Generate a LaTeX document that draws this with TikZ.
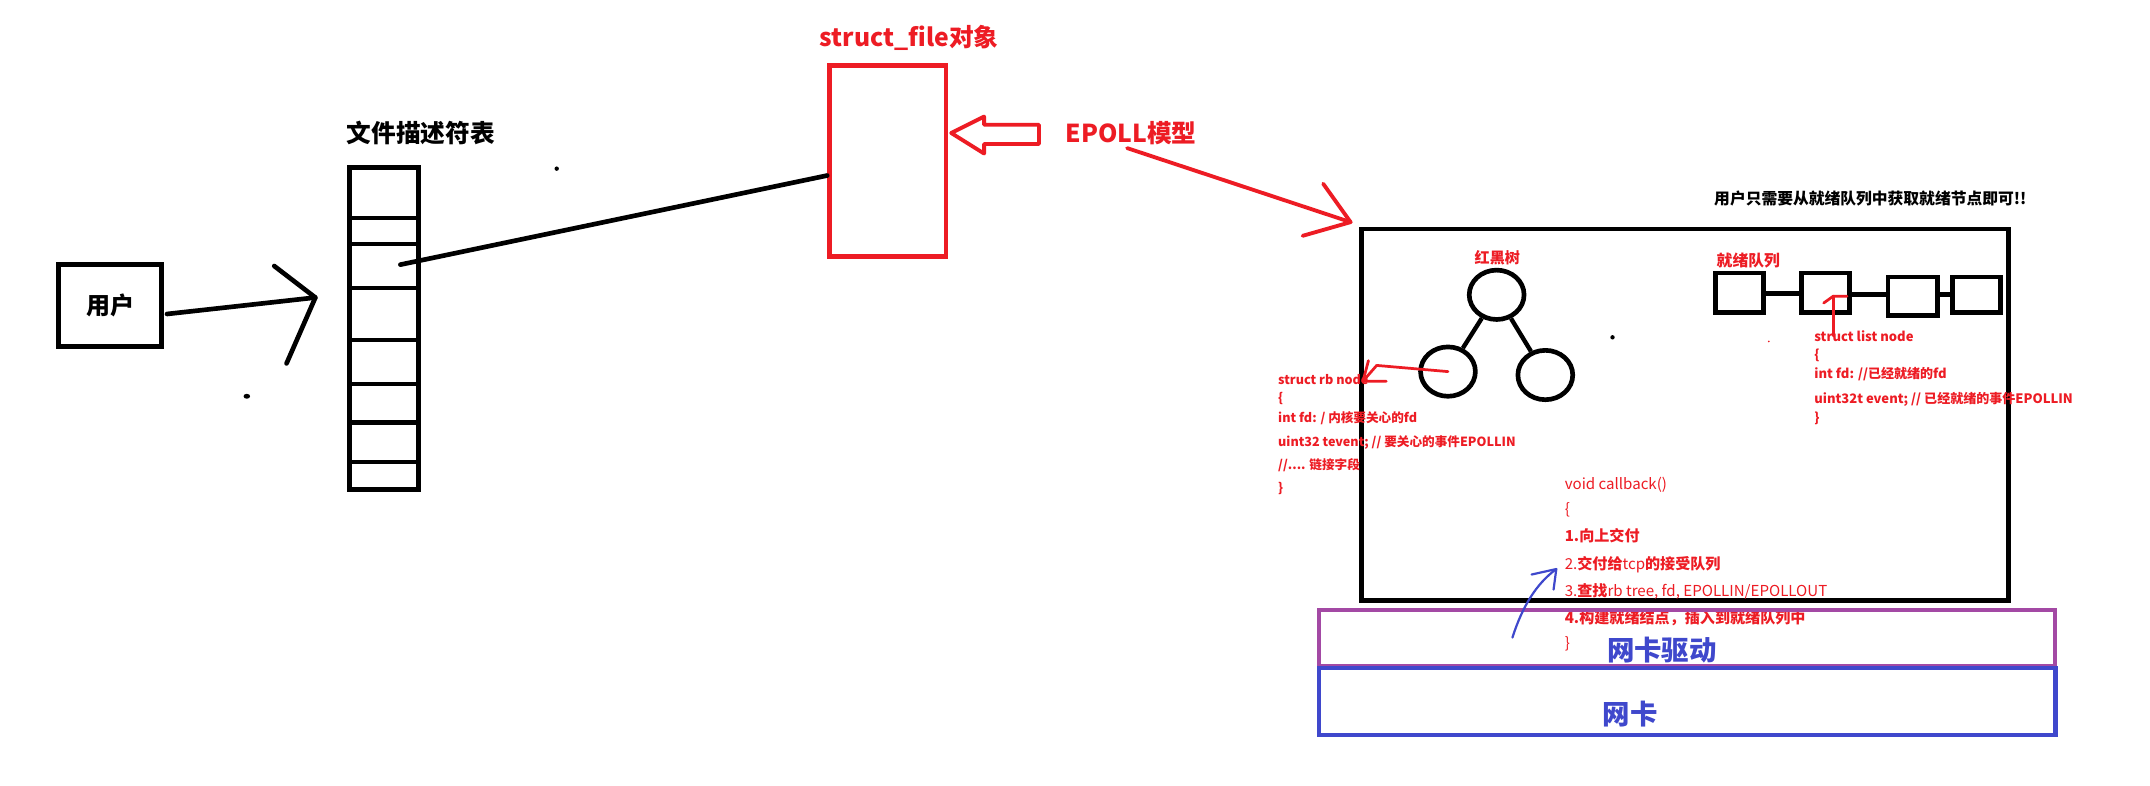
\documentclass[tikz,border=0pt]{standalone}
\usepackage{fontspec}
\newfontfamily\cjk{Noto Sans CJK SC}
\usetikzlibrary{shapes.geometric,calc}
\definecolor{pred}{RGB}{237,28,36}
\definecolor{pblue}{RGB}{63,72,204}
\definecolor{ppurple}{RGB}{163,73,164}
\begin{document}
\begin{tikzpicture}[x=1pt,y=-1pt,
  blkbox/.style={draw=black, line width=3.6pt, inner sep=0, fill=none},
  redline/.style={draw=pred, line width=2.8pt, line cap=round, line join=round},
  thinred/.style={draw=pred, line width=2pt, line cap=round, line join=round},
  blkline/.style={draw=black, line width=3.4pt, line cap=round, line join=round},
  ttl/.style={font=\cjk\bfseries\fontsize{18}{20}\selectfont, inner sep=0},
  small/.style={font=\cjk\bfseries\fontsize{11.5}{13}\selectfont, inner sep=0},
  code/.style={font=\cjk\fontsize{#1}{#1}\selectfont, text=pred, inner sep=0, anchor=base west},
  tnode/.style={ellipse, draw=black, line width=3.4pt, minimum width=40, minimum height=36, inner sep=0},
  lbox/.style={draw=black, line width=3.4pt, inner sep=0},
  dot/.style={fill=black, draw=none}
]
\useasboundingbox[fill=white] (0,0) rectangle (1568,573);

% user and fd table
\node[blkbox, minimum width=75, minimum height=60, font=\cjk\bfseries\fontsize{17.5}{19}\selectfont] (user) at (80.5,223) {用户};
\node[ttl, text=black] (fdtitle) at (307,97) {文件描述符表};
\node[blkbox, minimum width=50, minimum height=235] (tbl) at (280,239.5) {};
\foreach \yy in {159,178,210,248,280,308,337}
  \draw[black, line width=3.4pt] (tbl.west |- 0,\yy) -- (tbl.east |- 0,\yy);

\coordinate (utip) at (230,217);
\draw[blkline] ($(user.east)+(2,6)$) -- (utip);
\draw[blkline] (200,194) -- (utip) -- (209,265);

% struct file
\node[draw=pred, line width=3.4pt, inner sep=0, minimum width=85, minimum height=139] (sf) at (647.5,117.5) {};
\node[ttl, text=pred] (sftitle) at (663,28) {struct\_file对象};
\coordinate (fdrow) at (292,193);
\draw[blkline] (fdrow) -- (sf.west |- 0,128);

% hollow arrow and EPOLL label
\coordinate (hatip) at ($(sf.east)+(2,-20.5)$);
\draw[redline] (hatip) -- ++(24,-12) -- ++(0,6) -- ++(40,0) -- ++(0,14) -- ++(-40,0) -- ++(0,7) -- cycle;
\node[ttl, text=pred] (epoll) at (825,97) {EPOLL模型};
\coordinate (etail) at (822,108);
\coordinate (etip) at (985,162);
\draw[redline] (etail) -- (etip);
\draw[redline] (965,134) -- (etip) -- (950,172);

% dots
\fill[dot] (406,123) circle (1.6);
\fill[dot] (180,289) ellipse (2.4 and 1.8);
\fill[dot] (1176,246) circle (1.6);
\fill[pred] (1290,249) circle (0.7);

% big box
\node[blkbox, minimum width=472, minimum height=271] (big) at (1229,302.5) {};
\node[small, text=black] (note) at (1364,145) {用户只需要从就绪队列中获取就绪节点即可!!};

% red-black tree
\node[small, text=pred, font=\cjk\bfseries\fontsize{11}{13}\selectfont] (rbt) at (1092,188) {红黑树};
\node[tnode] (root) at (1091.5,215) {};
\node[tnode] (lc) at (1056,271) {};
\node[tnode] (rc) at (1127,273.5) {};
\draw[black, line width=3.2pt] (root) -- (lc);
\draw[black, line width=3.2pt] (root) -- (rc);
\coordinate (rbtip) at (994,278);
\draw[thinred] (lc.center) -- (1004,266.5) -- (rbtip) -- (1011,278);
\draw[thinred] (998,263) -- (rbtip);

% rb node text
\node[code=9.2] (rb1) at (932,280.3) {\bfseries struct rb node};
\node[code=9.2] (rb2) at (932,293.3) {\bfseries \{};
\node[code=9.2] (rb3) at (932,308.3) {\bfseries int fd: / 内核要关心的fd};
\node[code=9.2] (rb4) at (932,325.3) {\bfseries uint32 tevent; // 要关心的事件EPOLLIN};
\node[code=9.2] (rb5) at (932,342.3) {\bfseries //.... 链接字段};
\node[code=9.2] (rb6) at (932,359.3) {\bfseries \}};

% ready list
\node[small, text=pred] (rlt) at (1275,190) {就绪队列};
\node[lbox, minimum width=35, minimum height=29] (lb1) at (1268.5,213.5) {};
\node[lbox, minimum width=35, minimum height=29] (lb2) at (1331.5,213.5) {};
\node[lbox, minimum width=36, minimum height=28] (lb3) at (1395,216) {};
\node[lbox, minimum width=35, minimum height=26] (lb4) at (1441.5,215) {};
\draw[black, line width=3.4pt] (lb1.east |- 0,214) -- (lb2.west |- 0,214);
\draw[black, line width=3.4pt] (lb2.east |- 0,215) -- (lb3.west |- 0,215);
\draw[black, line width=3.4pt] (lb3.east |- 0,215) -- (lb4.west |- 0,215);
\coordinate (lntail) at (1337,245);
\coordinate (lntip) at (1337,216);
\draw[thinred] (lntail) -- (lntip);
\draw[thinred] (1330,221) -- (lntip) -- (1347,216);

% list node text
\node[code=9.5] (ln1) at (1323,249.4) {\bfseries struct list node};
\node[code=9.5] (ln2) at (1323,262.4) {\bfseries \{};
\node[code=9.5] (ln3) at (1323,276.4) {\bfseries int fd: //已经就绪的fd};
\node[code=9.5] (ln4) at (1323,294.4) {\bfseries uint32t event; // 已经就绪的事件EPOLLIN};
\node[code=9.5] (ln5) at (1323,308.4) {\bfseries \}};

% callback text
\node[code=11] (cb1) at (1141,357) {void callback()};
\node[code=11] (cb2) at (1141,375) {\{};
\node[code=11] (cb3) at (1141,395) {\bfseries 1.向上交付};
\node[code=11] (cb4) at (1141,415) {2.\textbf{交付给}tcp\textbf{的接受队列}};
\node[code=11] (cb5) at (1141,435) {3.\textbf{查找}rb tree, fd, EPOLLIN/EPOLLOUT};
\node[code=11] (cb6) at (1141,455) {\bfseries 4.构建就绪结点，插入到就绪队列中};
\node[code=11] (cb7) at (1141,473) {\}};

% NIC layers
\node[draw=ppurple, line width=2.8pt, inner sep=0, minimum width=537, minimum height=41] (drv) at (1230.5,465.5) {};
\node[draw=pblue, line width=3.2pt, inner sep=0, minimum width=537, minimum height=49] (nic) at (1230.5,511.5) {};
\node[ttl, text=pblue, font=\cjk\bfseries\fontsize{20}{22}\selectfont] (drvt) at (1212,474) {网卡驱动};
\node[ttl, text=pblue, font=\cjk\bfseries\fontsize{20}{22}\selectfont] (nict) at (1189,521) {网卡};

% blue arrow
\coordinate (bstart) at (1103,465);
\coordinate (btip) at (1135,415);
\draw[pblue, line width=1.6pt, line cap=round, line join=round] (bstart) .. controls (1110,443) and (1120,426) .. (btip);
\draw[pblue, line width=1.6pt, line cap=round, line join=round] (1117,419) -- (btip) -- (1133,430);
\end{tikzpicture}
\end{document}
